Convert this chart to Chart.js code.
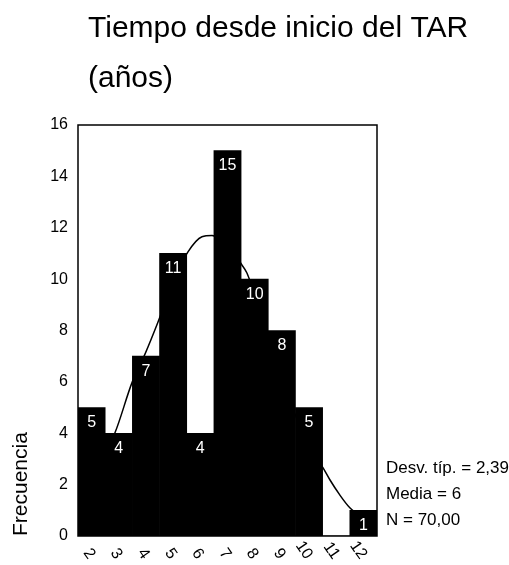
<!DOCTYPE html>
<html>
<head>
<meta charset="utf-8">
<script src="https://cdn.jsdelivr.net/npm/chart.js@4/dist/chart.umd.min.js"></script>
<style>
  body { margin: 0; background: #fff; }
  #caja { width: 509px; height: 565px; position: relative; }
</style>
</head>
<body>
<div id="caja"><canvas id="grafico"></canvas></div>
<script>
var anios = ["2", "3", "4", "5", "6", "7", "8", "9", "10", "11", "12"];
var frecuencias = [5, 4, 7, 11, 4, 15, 10, 8, 5, 0, 1];

// curva normal superpuesta (x en años, y en frecuencia)
var curvaX = [1.5, 2.0, 2.5, 2.86, 3.49, 3.96, 4.44, 5.0, 5.54, 6.06, 6.43, 7.0, 7.53, 7.71, 8.0, 8.5, 9.0, 9.5, 10.0, 10.51, 10.76, 11.13, 11.5, 12.0, 12.5];
var curvaY = [1.9, 2.6, 3.3, 4.02, 5.98, 7.07, 8.32, 9.9, 11.05, 11.65, 11.7, 11.3, 10.55, 10.25, 9.4, 7.8, 6.2, 4.7, 3.5, 2.66, 2.2, 1.6, 1.1, 0.7, 0.4];

var titulo = ["Tiempo desde inicio del TAR", "(años)"];
var estadisticos = ["Desv. típ. = 2,39", "Media = 6", "N = 70,00"];
var tituloEjeY = "Frecuencia";

var fuente = "'Liberation Sans', Arial, sans-serif";
Chart.defaults.font.family = fuente;
Chart.defaults.color = "#000";

var puntosCurva = [];
for (let i = 0; i < curvaX.length; i++) {
    puntosCurva.push({ x: curvaX[i], y: curvaY[i] });
}

// etiquetas, marco, titulo y estadisticos
var textos = {
    id: "textos",
    afterDatasetsDraw: function (chart) {
        var ctx = chart.ctx;
        var meta = chart.getDatasetMeta(0);
        ctx.save();
        ctx.fillStyle = "#fff";
        ctx.font = "16px " + fuente;
        ctx.textAlign = "center";
        ctx.textBaseline = "middle";
        meta.data.forEach(function (barra, i) {
            if (frecuencias[i] > 0) {
                ctx.fillText(String(frecuencias[i]), barra.x, barra.y + 15);
            }
        });
        ctx.restore();
    },
    afterDraw: function (chart) {
        var ctx = chart.ctx;
        var area = chart.chartArea;
        ctx.save();
        ctx.strokeStyle = "#000";
        ctx.lineWidth = 1.5;
        ctx.strokeRect(area.left, area.top, area.right - area.left, area.bottom - area.top);

        ctx.fillStyle = "#000";
        ctx.textAlign = "left";
        ctx.textBaseline = "alphabetic";
        ctx.font = "30px " + fuente;
        ctx.fillText(titulo[0], area.left + 10, 37);
        ctx.fillText(titulo[1], area.left + 10, 87);

        ctx.font = "17px " + fuente;
        ctx.textBaseline = "middle";
        for (let k = 0; k < estadisticos.length; k++) {
            ctx.fillText(estadisticos[k], area.right + 9, area.bottom - 68 + k * 26);
        }
        ctx.restore();
    }
};

var grafico = new Chart(document.getElementById("grafico"), {
    type: "bar",
    data: {
        labels: anios,
        datasets: [
            {
                type: "bar",
                data: frecuencias,
                backgroundColor: "#000",
                borderWidth: 0,
                barPercentage: 1,
                categoryPercentage: 1,
                grouped: false,
                xAxisID: "x",
                order: 0
            },
            {
                type: "line",
                data: puntosCurva,
                borderColor: "#000",
                borderWidth: 1.5,
                pointRadius: 0,
                cubicInterpolationMode: "monotone",
                fill: false,
                xAxisID: "x2",
                order: 1
            }
        ]
    },
    options: {
        responsive: true,
        maintainAspectRatio: false,
        animation: false,
        layout: { padding: { top: 125, right: 132, left: 0, bottom: 0 } },
        plugins: {
            legend: { display: false },
            tooltip: { enabled: false }
        },
        scales: {
            x: {
                type: "category",
                offset: true,
                grid: { display: false, drawTicks: false },
                border: { display: false },
                ticks: {
                    autoSkip: false,
                    minRotation: -55,
                    maxRotation: -55,
                    padding: 16,
                    font: { size: 16 }
                },
                afterFit: function (escala) { escala.height = 29; }
            },
            x2: {
                type: "linear",
                display: false,
                offset: false,
                min: 1.5,
                max: 12.5
            },
            y: {
                min: 0,
                max: 16,
                grid: { display: false, drawTicks: false },
                border: { display: false },
                ticks: { stepSize: 2, padding: 10, font: { size: 16 } },
                title: {
                    display: true,
                    text: tituloEjeY,
                    align: "start",
                    font: { size: 21 },
                    padding: { top: 9, bottom: 0 }
                },
                afterFit: function (escala) { escala.width = 78; }
            }
        }
    },
    plugins: [textos]
});
</script>
</body>
</html>
